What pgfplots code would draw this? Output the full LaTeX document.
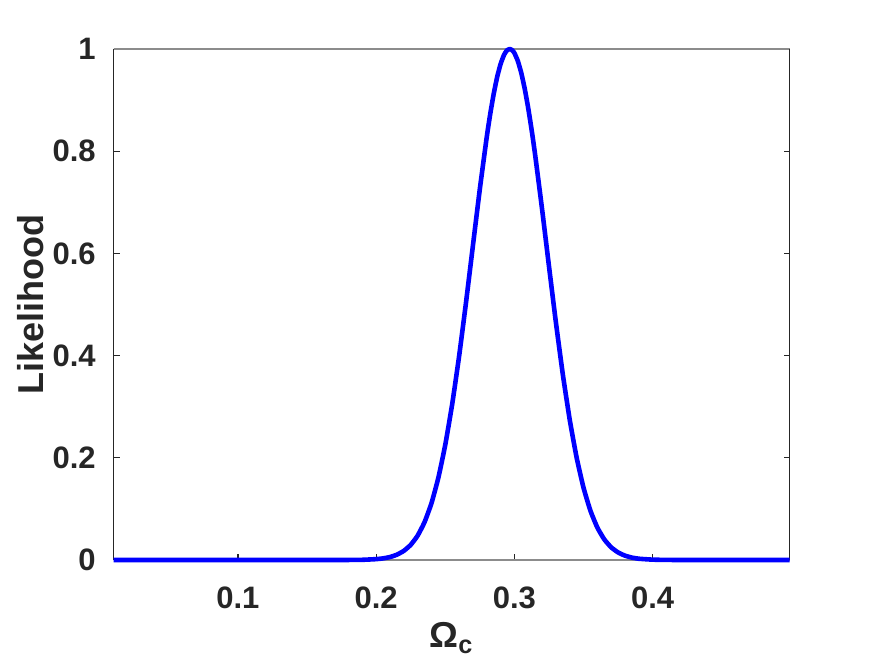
\documentclass[border=0pt]{standalone}
\usepackage{fontspec}
\setmainfont{Liberation Sans}
\usepackage{pgfplots}
\pgfplotsset{compat=1.18}

\definecolor{mtext}{RGB}{38,38,38}
\definecolor{mgray}{RGB}{140,140,140}

\pgfplotstableread{
x      y
0.010  0
0.050  0
0.100  0
0.150  0
0.170  0.00002
0.180  0.0001
0.190  0.0004
0.200  0.0017
0.205  0.0032
0.210  0.0058
0.215  0.0104
0.220  0.0179
0.225  0.0297
0.230  0.0477
0.235  0.0741
0.240  0.1111
0.245  0.1611
0.250  0.2256
0.255  0.3051
0.260  0.3989
0.265  0.5041
0.270  0.6155
0.275  0.7261
0.280  0.8278
0.2825 0.8725
0.285  0.9118
0.2875 0.9448
0.290  0.9706
0.2925 0.9885
0.2945 0.9970
0.2966 1.0000
0.2985 0.9975
0.300  0.9921
0.3025 0.9764
0.305  0.9528
0.3075 0.9217
0.310  0.8841
0.3125 0.8408
0.315  0.7928
0.320  0.6869
0.325  0.5751
0.330  0.4653
0.335  0.3637
0.340  0.2748
0.345  0.2006
0.350  0.1414
0.355  0.0964
0.360  0.0635
0.365  0.0404
0.370  0.0248
0.375  0.0148
0.380  0.0085
0.385  0.0047
0.390  0.0025
0.400  0.0007
0.410  0.0002
0.420  0.00003
0.450  0
0.499  0
}\likedata

\begin{document}
\begin{tikzpicture}
\path[use as bounding box] (-56.75pt,-47pt) rectangle (379.25pt,280pt);
\begin{axis}[
    scale only axis,
    width=338pt,
    height=255.5pt,
    xmin=0.01, xmax=0.499,
    ymin=0, ymax=1,
    xtick={0.1,0.2,0.3,0.4},
    ytick={0,0.2,0.4,0.6,0.8,1},
    xtick pos=lower,
    ytick pos=both,
    tick align=inside,
    major tick length=3pt,
    tick style={mtext, line width=0.6pt},
    separate axis lines,
    x axis line style={draw=mgray, line width=0.7pt},
    y axis line style={draw=mtext, line width=0.7pt},
    /pgf/number format/assume math mode=true,
    ticklabel style={font=\fontsize{15.5}{18}\selectfont\bfseries, text=mtext, inner sep=0pt},
    xticklabel style={anchor=north, yshift=-13pt},
    yticklabel style={anchor=east, xshift=-8.7pt},
    every axis x label/.style={at={(axis description cs:0.5,-0.172)}, anchor=base},
    every axis y label/.style={at={(axis description cs:-0.1034,0.5)}, rotate=90, anchor=base},
    label style={font=\fontsize{18}{21}\selectfont\bfseries, text=mtext, inner sep=0pt},
    xlabel={Ω\textsubscript{c}},
    ylabel={Likelihood},
    clip=false,
]
\addplot[color={rgb,1:red,0;green,0;blue,1}, line width=2.3pt, line join=round, smooth, tension=0.3] table[x=x, y=y] {\likedata};
\end{axis}
\end{tikzpicture}
\end{document}
